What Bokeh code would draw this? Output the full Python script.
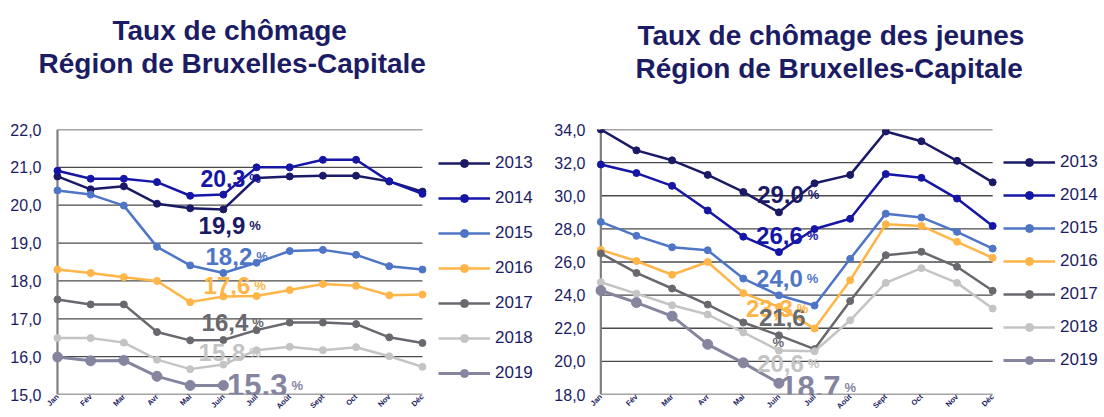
import math
from bokeh.plotting import figure
from bokeh.models import Range1d, FixedTicker, Legend, LegendItem, Title, ColumnDataSource
from bokeh.layouts import row
from bokeh.embed import file_html
from bokeh.resources import INLINE
from bokeh.core.properties import value

# ---------------- data ----------------
months = ["Jan", "Fév", "Mar", "Avr", "Mai", "Juin", "Juil", "Août", "Sept", "Oct", "Nov", "Déc"]
years = ["2013", "2014", "2015", "2016", "2017", "2018", "2019"]

total_2013 = [20.76, 20.42, 20.50, 20.04, 19.92, 19.89, 20.72, 20.76, 20.78, 20.78, 20.63, 20.36]
total_2014 = [20.91, 20.70, 20.70, 20.61, 20.25, 20.28, 21.00, 21.00, 21.20, 21.20, 20.63, 20.30]
total_2015 = [20.39, 20.28, 19.99, 18.90, 18.41, 18.21, 18.48, 18.79, 18.82, 18.69, 18.39, 18.30]
total_2016 = [18.30, 18.21, 18.10, 18.00, 17.44, 17.59, 17.60, 17.76, 17.92, 17.87, 17.62, 17.64]
total_2017 = [17.51, 17.38, 17.38, 16.65, 16.43, 16.44, 16.70, 16.90, 16.90, 16.86, 16.51, 16.36]
total_2018 = [16.49, 16.49, 16.37, 15.92, 15.67, 15.79, 16.17, 16.26, 16.17, 16.25, 16.01, 15.73]
total_2019 = [15.99, 15.89, 15.90, 15.48, 15.24, 15.24]

jeunes_2013 = [34.00, 32.74, 32.14, 31.26, 30.23, 29.00, 30.75, 31.26, 33.88, 33.29, 32.11, 30.81]
jeunes_2014 = [31.89, 31.37, 30.60, 29.11, 27.53, 26.60, 27.99, 28.61, 31.31, 31.08, 29.83, 28.18]
jeunes_2015 = [28.42, 27.58, 26.89, 26.71, 25.00, 23.99, 23.37, 26.19, 28.92, 28.69, 27.82, 26.81]
jeunes_2016 = [26.73, 26.06, 25.23, 26.00, 24.12, 23.29, 21.98, 24.90, 28.28, 28.18, 27.22, 26.25]
jeunes_2017 = [26.52, 25.34, 24.40, 23.43, 22.35, 21.57, 20.74, 23.64, 26.41, 26.62, 25.71, 24.26]
jeunes_2018 = [24.78, 24.09, 23.39, 22.83, 21.75, 20.65, 20.61, 22.48, 24.74, 25.63, 24.74, 23.19]
jeunes_2019 = [24.28, 23.55, 22.73, 21.03, 19.91, 18.68]

total_ticks = [15, 16, 17, 18, 19, 20, 21, 22]
jeunes_ticks = [18, 20, 22, 24, 26, 28, 30, 32, 34]

total_label_years = ["2014", "2013", "2015", "2016", "2017", "2018", "2019"]
total_label_text = ["20,3", "19,9", "18,2", "17,6", "16,4", "15,8", "15,3"]
jeunes_label_years = ["2013", "2014", "2015", "2016", "2017", "2018", "2019"]
jeunes_label_text = ["29,0", "26,6", "24,0", "23,3", "21,6", "20,6", "18,7"]

# ---------------- styles ----------------
colors = {"2013": "#1a1a66", "2014": "#1616a6", "2015": "#4f76c6", "2016": "#ffb547",
          "2017": "#68686e", "2018": "#c4c4c4", "2019": "#85859f"}
NAVY = "#1c1c64"
FONT = "Liberation Sans"

# label anchors (x in month index, y baseline in data units), font sizes
total_label_pos = [(5.66, 20.70), (5.66, 19.46), (5.87, 18.64), (5.81, 17.88),
                   (5.75, 16.90), (5.66, 16.11), (6.93, 15.24)]
total_label_size = ["23px", "24px", "24px", "24px", "24px", "24px", "31px"]
total_pct_pos = [None] * 7
jeunes_label_pos = [(5.70, 30.06), (5.67, 27.57), (5.67, 25.02), (5.39, 23.22),
                    (5.75, 22.64), (5.70, 19.86), (6.73, 18.45)]
jeunes_label_size = ["24px", "24px", "24px", "24px", "24px", "24px", "31px"]
jeunes_pct_pos = [None, None, None, None, (4.71, 21.14), None, None]


def build(series, ticks, width, x_end, mb_left, mb_top, mb_bottom, titles, title_offsets,
          spacer, line_gap, lg_loc, lg_spacing, lab_years, lab_text, lab_pos, lab_size,
          pct_pos, standoff):
    # the x range runs past Déc so that the legend area stays inside the frame
    p = figure(width=width, height=417, output_backend="svg", toolbar_location=None,
               x_range=Range1d(-0.15, x_end), y_range=Range1d(ticks[0], ticks[-1]),
               min_border_left=mb_left, min_border_right=0,
               min_border_top=mb_top, min_border_bottom=mb_bottom)
    p.title.visible = False
    p.outline_line_color = None
    p.background_fill_color = "white"
    p.border_fill_color = "white"
    p.xgrid.visible = False
    p.ygrid.visible = False

    # horizontal grid lines, drawn between Jan and Déc
    p.segment(x0=[0] * len(ticks), x1=[len(months) - 1] * len(ticks), y0=ticks, y1=ticks,
              line_color="#4a4a4a", line_width=1.3)
    # vertical axis line
    p.segment(x0=[0], x1=[0], y0=[ticks[0]], y1=[ticks[-1]], line_color="#7f7f7f", line_width=2.2)

    yax = p.yaxis[0]
    yax.ticker = FixedTicker(ticks=ticks)
    yax.major_label_overrides = {t: f"{t:.1f}".replace(".", ",") for t in ticks}
    yax.axis_line_color = None
    yax.major_tick_line_color = None
    yax.minor_tick_line_color = None
    yax.major_label_standoff = standoff
    yax.major_label_text_font = FONT
    yax.major_label_text_font_size = "16px"
    yax.major_label_text_color = NAVY

    xax = p.xaxis[0]
    xax.ticker = FixedTicker(ticks=list(range(len(months))))
    xax.major_label_overrides = {i: m for i, m in enumerate(months)}
    xax.axis_line_color = None
    xax.major_tick_line_color = None
    xax.minor_tick_line_color = None
    xax.major_tick_out = 0
    xax.major_tick_in = 0
    xax.major_label_standoff = 1
    xax.major_label_orientation = math.pi / 4
    xax.major_label_text_font = FONT
    xax.major_label_text_font_size = "7.5px"
    xax.major_label_text_font_style = "bold"
    xax.major_label_text_color = NAVY

    items = []
    for y in years:
        vals = series[y]
        xs = list(range(len(vals)))
        big = (y == "2019")
        lr = p.line(xs, vals, line_color=colors[y], line_width=3 if big else 2.5)
        sr = p.scatter(xs, vals, marker="circle", size=10 if big else 7,
                       fill_color=colors[y], line_color=colors[y])
        items.append(LegendItem(label=y, renderers=[lr, sr]))

    # value labels
    src = ColumnDataSource(dict(
        x=[a for a, b in lab_pos], y=[b for a, b in lab_pos], text=lab_text,
        color=[colors[y] for y in lab_years], size=lab_size))
    p.text(x="x", y="y", text="text", source=src, text_color="color", text_font_size="size",
           text_font=value(FONT), text_font_style="bold", text_align="right",
           text_baseline="alphabetic")
    px, py, pc = [], [], []
    for (a, b), pp, y in zip(lab_pos, pct_pos, lab_years):
        if pp is None:
            px.append(a); py.append(b)
        else:
            px.append(pp[0]); py.append(pp[1])
        pc.append(colors[y])
    psrc = ColumnDataSource(dict(x=px, y=py, color=pc))
    p.text(x="x", y="y", text=value("%"), source=psrc, text_color="color",
           text_font_size="13px", text_font=value(FONT), text_font_style="bold",
           text_align="left", text_baseline="alphabetic", x_offset=4)

    legend = Legend(items=items, location=lg_loc, orientation="vertical",
                    glyph_width=52, glyph_height=20, label_height=20,
                    label_standoff=5, spacing=lg_spacing, padding=0, margin=0,
                    border_line_color=None, background_fill_alpha=0,
                    label_text_font=FONT, label_text_font_size="17px",
                    label_text_color=NAVY)
    p.add_layout(legend, "center")

    # blank spacer between the plot and the two title lines
    p.add_layout(Title(text=" ", standoff=spacer, text_font_size="1px"), "above")
    # two title lines; the one added last sits on top
    p.add_layout(Title(text=titles[1], align="left", offset=title_offsets[1],
                       standoff=line_gap, text_font=FONT, text_font_size="28px",
                       text_font_style="bold", text_color=NAVY), "above")
    p.add_layout(Title(text=titles[0], align="left", offset=title_offsets[0],
                       standoff=0, text_font=FONT, text_font_size="28px",
                       text_font_style="bold", text_color=NAVY), "above")
    return p


total_series = {"2013": total_2013, "2014": total_2014, "2015": total_2015, "2016": total_2016,
                "2017": total_2017, "2018": total_2018, "2019": total_2019}
jeunes_series = {"2013": jeunes_2013, "2014": jeunes_2014, "2015": jeunes_2015, "2016": jeunes_2016,
                 "2017": jeunes_2017, "2018": jeunes_2018, "2019": jeunes_2019}

p1 = build(total_series, total_ticks, 550, 14.86, 52, 129, 23,
           ["Taux de chômage", "Région de Bruxelles-Capitale"], [60, -14], 47, 1,
           (386, 11), 15, total_label_years, total_label_text, total_label_pos,
           total_label_size, total_pct_pos, 5)
p2 = build(jeunes_series, jeunes_ticks, 554, 14.14, 45, 123, 18,
           ["Taux de chômage des jeunes", "Région de Bruxelles-Capitale"], [42, 40], 43, 0,
           (408, 24), 13, jeunes_label_years, jeunes_label_text, jeunes_label_pos,
           jeunes_label_size, jeunes_pct_pos, 4)

layout = row(p1, p2)
layout.spacing = 0
open("out.html", "w").write(file_html(layout, INLINE))
